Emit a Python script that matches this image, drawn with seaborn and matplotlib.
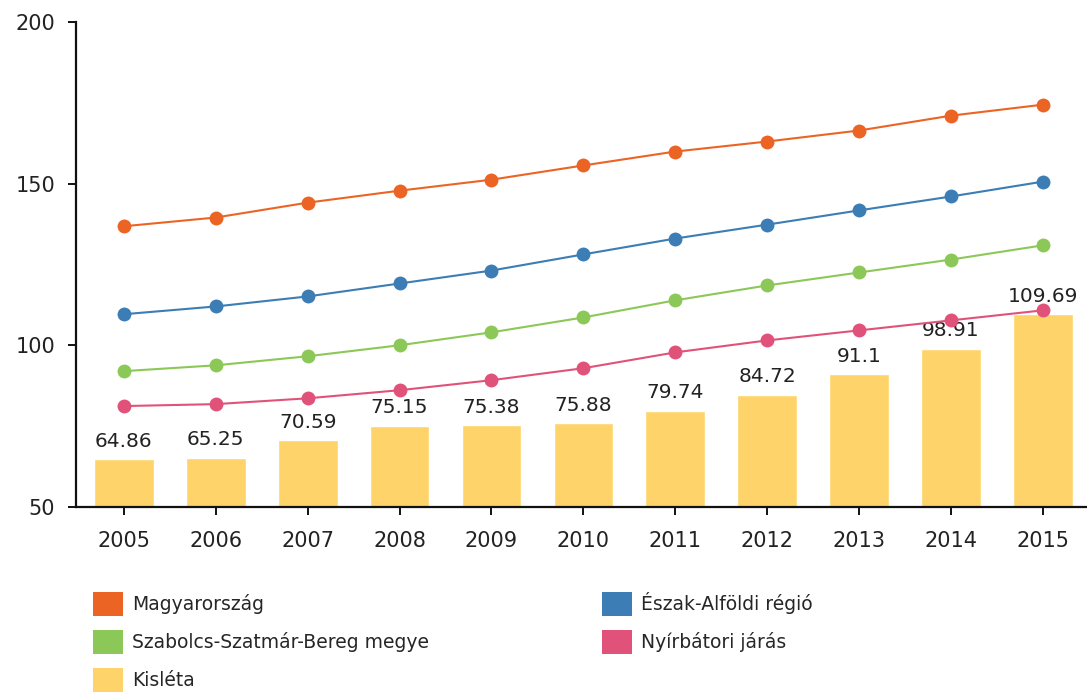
import numpy as np
import pandas as pd
import matplotlib
matplotlib.use("Agg")
import matplotlib.pyplot as plt
from matplotlib.patches import Patch
import seaborn as sns

years = [2005, 2006, 2007, 2008, 2009, 2010, 2011, 2012, 2013, 2014, 2015]
magyarorszag = [136.8, 139.5, 144.1, 147.8, 151.2, 155.6, 159.9, 163.0, 166.4, 171.0, 174.4]
eszak_alfoldi = [109.6, 112.0, 115.1, 119.1, 123.1, 128.1, 133.0, 137.3, 141.7, 146.0, 150.6]
szabolcs = [92.0, 93.8, 96.6, 100.0, 104.0, 108.6, 113.9, 118.5, 122.5, 126.5, 130.9]
nyirbatori = [81.2, 81.8, 83.6, 86.1, 89.2, 92.9, 97.8, 101.5, 104.6, 107.7, 110.8]
kisleta = [64.86, 65.25, 70.59, 75.15, 75.38, 75.88, 79.74, 84.72, 91.1, 98.91, 109.69]
kisleta_labels = ["64.86", "65.25", "70.59", "75.15", "75.38", "75.88", "79.74", "84.72", "91.1", "98.91", "109.69"]

names = ["Magyarország", "Észak-Alföldi régió", "Szabolcs-Szatmár-Bereg megye", "Nyírbátori járás", "Kisléta"]
colors = {"Magyarország": "#EC6424", "Észak-Alföldi régió": "#3B7DB4",
          "Szabolcs-Szatmár-Bereg megye": "#8CC857", "Nyírbátori járás": "#E1527A",
          "Kisléta": "#FDD36A"}

sns.set_theme(style="white")
plt.rcParams['font.family'] = ['DejaVu Sans']

fig = plt.figure(figsize=(10.87, 6.94), dpi=100)
ax = fig.add_axes([0.070, 0.2695, 0.93, 0.699])

bar_df = pd.DataFrame({"year": [str(y) for y in years], "value": kisleta})
sns.barplot(data=bar_df, x="year", y="value", color=colors["Kisléta"], width=0.65,
            saturation=1, ax=ax, zorder=1)
ax.bar_label(ax.containers[0], labels=kisleta_labels, padding=6, fontsize=14.5, color="#222222")

series = {"Magyarország": magyarorszag, "Észak-Alföldi régió": eszak_alfoldi,
          "Szabolcs-Szatmár-Bereg megye": szabolcs, "Nyírbátori járás": nyirbatori}
rows = []
for name, vals in series.items():
    for i, v in enumerate(vals):
        rows.append({"pos": i, "series": name, "value": v})
line_df = pd.DataFrame(rows)
sns.lineplot(data=line_df, x="pos", y="value", hue="series", palette=colors,
             marker="o", markersize=10, markeredgewidth=0, linewidth=1.5,
             ax=ax, legend=False, zorder=3)

ax.set_ylim(50, 200)
ax.set_xlim(-0.52, 10.48)
ax.set_yticks([50, 100, 150, 200])
ax.set_xticks(range(len(years)))
ax.set_xticklabels([str(y) for y in years])
ax.set_xlabel("")
ax.set_ylabel("")
for s in ["top", "right"]:
    ax.spines[s].set_visible(False)
for s in ["left", "bottom"]:
    ax.spines[s].set_color("#111111")
    ax.spines[s].set_linewidth(1.6)
ax.tick_params(axis="both", which="both", length=6, width=1.4, color="#111111",
               labelsize=15, labelcolor="#222222", direction="out", left=True, bottom=True)
ax.tick_params(axis="x", pad=11)
ax.tick_params(axis="y", pad=9)

order = ["Magyarország", "Szabolcs-Szatmár-Bereg megye", "Kisléta", "Észak-Alföldi régió", "Nyírbátori járás"]
handles = [Patch(facecolor=colors[n], edgecolor="none", label=n) for n in order]
fig.legend(handles=handles, loc="upper left", bbox_to_anchor=(0.0785, 0.158), ncol=2,
           frameon=False, fontsize=13.5, handlelength=1.6, handleheight=1.6,
           handletextpad=0.5, columnspacing=9.2, labelspacing=0.75, borderaxespad=0)

fig.savefig("out.png", dpi=100)
